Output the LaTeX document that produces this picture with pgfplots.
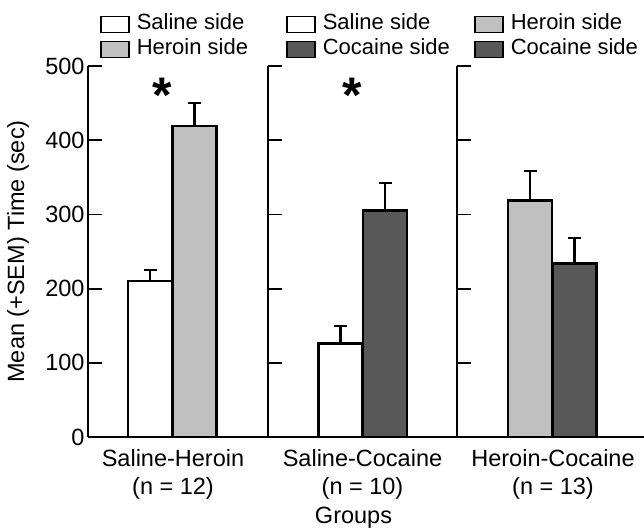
\documentclass[border=0pt]{standalone}
\usepackage{pgfplots}
\pgfplotsset{compat=1.18}
\usepackage{fontspec}
\setmainfont{Liberation Sans}
\definecolor{lgray}{RGB}{192,192,192}
\definecolor{dgray}{RGB}{88,88,88}
\newcommand{\chfont}{\fontsize{23.5}{28}\selectfont}
\newcommand{\lgfont}{\fontsize{22}{26}\selectfont}
\pgfplotsset{panel/.style={
  scale only axis, height=371pt, ymin=0, ymax=500,
  /pgf/number format/assume math mode=true,
  axis x line*=bottom, axis y line*=left,
  axis line style={line width=1.8pt},
  ytick={0,100,...,500}, tick align=inside, major tick length=14pt,
  every tick/.style={line width=1.8pt, black},
  xtick style={draw=none},
  xticklabel style={align=center, yshift=5pt},
  ybar, bar width=44pt, bar shift=0pt,
  every axis plot/.append style={line width=2.6pt, draw=black},
  error bars/y dir=plus, error bars/y explicit,
  error bars/error bar style={line width=2.2pt},
  error bars/error mark options={rotate=90, line width=2.2pt, mark size=6.5pt},
  clip=false,
  font=\chfont,
  tick label style={font=\chfont},
  label style={font=\chfont},
  legend style={draw=none, fill=none, inner sep=0pt, row sep=2pt,
    font=\lgfont,
    nodes={inner sep=1pt, text height=16pt, text depth=5pt},
    /tikz/every odd column/.append style={column sep=6pt},
    at={(rel axis cs:0,1)}, anchor=south west, yshift=5pt},
  legend cell align=left,
  legend image code/.code={\draw[#1, line width=1.6pt] (0pt,-8pt) rectangle (28pt,8pt);},
}}
\begin{document}
\begin{tikzpicture}
\begin{axis}[panel, at={(88pt,91pt)}, anchor=south west, width=180pt,
  xmin=88, xmax=268, xtick={173}, xticklabels={Saline-Heroin\\(n = 12)},
  ylabel={Mean (+SEM) Time (sec)},
  ylabel style={at={(axis description cs:-0.389,0.5)}, anchor=center},
  legend style={xshift=12pt}]
\addplot[fill=white] coordinates {(150,210) +- (0,15)};
\addlegendentry{Saline side}
\addplot[fill=lgray] coordinates {(194.5,419) +- (0,31)};
\addlegendentry{Heroin side}
\node[anchor=north, inner sep=0pt, font=\fontsize{50}{50}\selectfont\bfseries] at (axis cs:162,484) {*};
\end{axis}
\begin{axis}[panel, at={(268pt,91pt)}, anchor=south west, width=189pt,
  xmin=268, xmax=457, xtick={362.5}, xticklabels={Saline-Cocaine\\(n = 10)},
  yticklabels={}, xlabel={Groups}, xlabel style={xshift=-9pt, yshift=-1pt},
  legend style={xshift=18pt}]
\addplot[fill=white] coordinates {(340.5,126) +- (0,24)};
\addlegendentry{Saline side}
\addplot[fill=dgray] coordinates {(385,305) +- (0,37)};
\addlegendentry{Cocaine side}
\node[anchor=north, inner sep=0pt, font=\fontsize{50}{50}\selectfont\bfseries] at (axis cs:352,484) {*};
\end{axis}
\begin{axis}[panel, at={(457pt,91pt)}, anchor=south west, width=187pt,
  xmin=457, xmax=644, xtick={553}, xticklabels={Heroin-Cocaine\\(n = 13)},
  yticklabels={},
  legend style={xshift=17pt}]
\addplot[fill=lgray] coordinates {(530,319) +- (0,40)};
\addlegendentry{Heroin side}
\addplot[fill=dgray] coordinates {(574.5,234) +- (0,34)};
\addlegendentry{Cocaine side}
\end{axis}
\pgfresetboundingbox
\path[use as bounding box] (0,0) rectangle (644pt,528pt);
\end{tikzpicture}
\end{document}
